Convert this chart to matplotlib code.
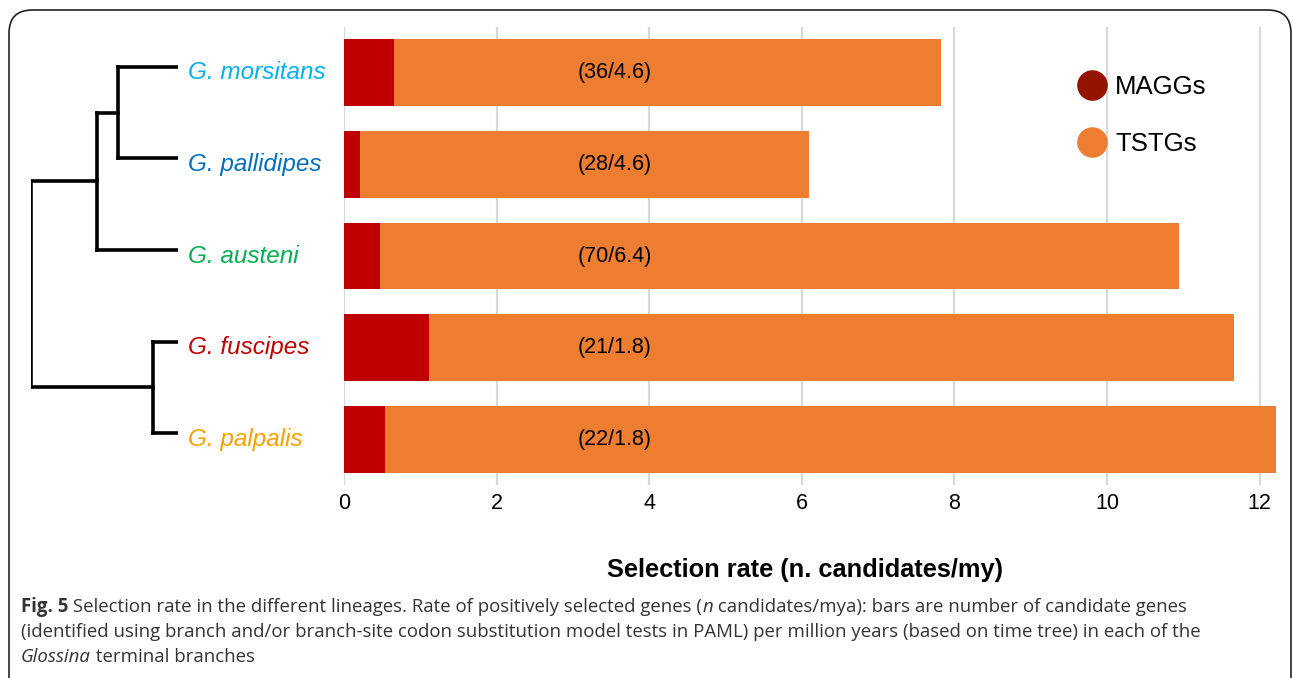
import matplotlib
matplotlib.use("Agg")
import matplotlib.pyplot as plt
from matplotlib.lines import Line2D
from matplotlib.patches import FancyBboxPatch
from matplotlib.transforms import ScaledTranslation

# ---------------- data ----------------
species = ["G. morsitans", "G. pallidipes", "G. austeni", "G. fuscipes", "G. palpalis"]
species_colors = ["#00B0F0", "#0070C0", "#00B050", "#C00000", "#F5A000"]
maggs = [0.66, 0.21, 0.47, 1.11, 0.54]
tstgs = [7.17, 5.88, 10.47, 10.56, 11.68]
bar_notes = ["(36/4.6)", "(28/4.6)", "(70/6.4)", "(21/1.8)", "(22/1.8)"]
xticks = [0, 2, 4, 6, 8, 10, 12]
xlabel = "Selection rate (n. candidates/my)"
legend_labels = ["MAGGs", "TSTGs"]

# tree node depths (arbitrary units)
tip_depth = 147
node_depth = {"root": 0, "A": 66, "B": 87, "C": 122}

W, H = 1293, 678
plt.rcParams["font.family"] = ["Liberation Sans", "DejaVu Sans"]
fig = plt.figure(figsize=(W / 100, H / 100), dpi=100)

ax_l, ax_r, ax_t, ax_b = 344, 1282.5, 27, 485
ax = fig.add_axes([ax_l / W, 1 - ax_b / H, (ax_r - ax_l) / W, (ax_b - ax_t) / H])

red, orange, legred = "#C00000", "#ED7D31", "#941200"
ypos = list(range(len(species)))
ax.barh(ypos, maggs, height=0.73, color=red, zorder=3)
ax.barh(ypos, tstgs, left=maggs, height=0.73, color=orange, zorder=3)
for y, note in zip(ypos, bar_notes):
    ax.text(3.55, y, note, ha="center", va="center", fontsize=15.5, color="black", zorder=4)

ax.set_xlim(0, 12.3)
ax.set_ylim(4.5, -0.5)
ax.set_xticks(xticks)
ax.set_xticklabels([str(t) for t in xticks], fontsize=15.5)
ax.tick_params(axis="x", length=0, pad=6)
ax.set_yticks([])
for s in ax.spines.values():
    s.set_visible(False)
ax.grid(axis="x", color="#D9D9D9", linewidth=1.6, zorder=0)
ax.set_axisbelow(True)

handles = [Line2D([], [], marker="o", linestyle="none", markersize=21, color=legred),
           Line2D([], [], marker="o", linestyle="none", markersize=21, color=orange)]
leg = ax.legend(handles, legend_labels, loc="upper left", frameon=False, fontsize=18.5,
                bbox_to_anchor=(1065 / W, 1 - 62 / H), bbox_transform=fig.transFigure,
                labelspacing=1.3, handletextpad=0.35, handlelength=1.1, borderpad=0)

# ---------------- tree ----------------
shift = 6  # tree drawn slightly above bar centres, as in the original
tax = fig.add_axes([31 / W, 1 - (ax_b - shift) / H, (178 - 31) / W, (ax_b - ax_t) / H])
tax.set_xlim(0, tip_depth)
tax.set_ylim(4.5, -0.5)
tax.axis("off")
lw = 2.6
kw = dict(color="black", linewidth=lw, solid_capstyle="projecting", solid_joinstyle="miter")
yB = (ypos[0] + ypos[1]) / 2
yA = (yB + ypos[2]) / 2
yC = (ypos[3] + ypos[4]) / 2
for y, d in zip(ypos, ["B", "B", "A", "C", "C"]):
    tax.plot([node_depth[d], tip_depth], [y, y], **kw)
tax.plot([node_depth["B"]] * 2, [ypos[0], ypos[1]], **kw)
tax.plot([node_depth["A"]] * 2, [yB, ypos[2]], **kw)
tax.plot([node_depth["C"]] * 2, [ypos[3], ypos[4]], **kw)
tax.plot([node_depth["root"]] * 2, [yA, yC], **kw)
tax.plot([node_depth["A"], node_depth["B"]], [yB, yB], **kw)
tax.plot([node_depth["root"], node_depth["A"]], [yA, yA], **kw)
tax.plot([node_depth["root"], node_depth["C"]], [yC, yC], **kw)
lab_tr = tax.transData + ScaledTranslation(0, -shift / 100, fig.dpi_scale_trans)
for y, name, c in zip(ypos, species, species_colors):
    tax.text(tip_depth + 10, y, name, color=c, fontsize=17.5, style="italic",
             ha="left", va="center", clip_on=False, transform=lab_tr)

# ---------------- x label ----------------
fig.text(805 / W, 1 - 570 / H, xlabel, ha="center", va="center", fontsize=18.3,
         fontweight="bold")

# ---------------- caption ----------------
cap_font = ["Open Sans", "DejaVu Sans"]
cap_color = "#333333"
cap_size = 13.4
caption_lines = [
    [("Fig. 5", "bold", "normal"),
     (" Selection rate in the different lineages. Rate of positively selected genes (", "normal", "normal"),
     ("n", "normal", "italic"),
     (" candidates/mya): bars are number of candidate genes", "normal", "normal")],
    [("(identified using branch and/or branch-site codon substitution model tests in PAML) per million years (based on time tree) in each of the", "normal", "normal")],
    [("Glossina", "normal", "italic"), (" terminal branches", "normal", "normal")],
]
line_y = [607, 632, 657]
renderer = fig.canvas.get_renderer()
for runs, yl in zip(caption_lines, line_y):
    x = 21
    for txt, wt, st in runs:
        t = fig.text(x / W, 1 - yl / H, txt, fontsize=cap_size, fontweight=wt, style=st,
                     family=cap_font, color=cap_color, ha="left", va="center")
        bb = t.get_window_extent(renderer=renderer)
        x += bb.width

# ---------------- border ----------------
box = FancyBboxPatch((9 / W, -0.05), (1291 - 9) / W, (1 - 10 / H) + 0.05,
                     boxstyle="round,pad=0,rounding_size=0.018",
                     transform=fig.transFigure, fill=False, edgecolor="#222222",
                     linewidth=1.2, mutation_aspect=W / H)
fig.patches.append(box)

fig.savefig("out.png", dpi=100)
